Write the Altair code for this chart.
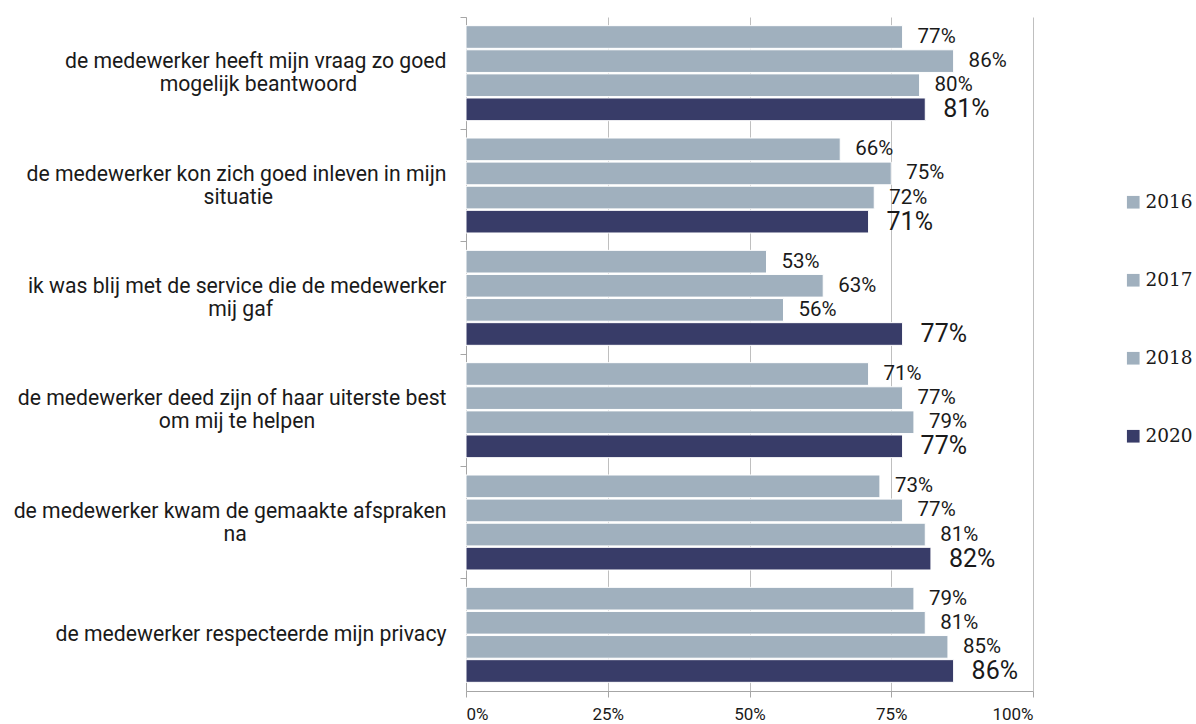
import altair as alt
import pandas as pd

categories = [
    "de medewerker heeft mijn vraag zo goed|mogelijk beantwoord",
    "de medewerker kon zich goed inleven in mijn|situatie",
    "ik was blij met de service die de medewerker|mij gaf",
    "de medewerker deed zijn of haar uiterste best|om mij te helpen",
    "de medewerker kwam de gemaakte afspraken|na",
    "de medewerker respecteerde mijn privacy",
]
years = ["2016", "2017", "2018", "2020"]
v2016 = [77, 66, 53, 71, 73, 79]
v2017 = [86, 75, 63, 77, 77, 81]
v2018 = [80, 72, 56, 79, 81, 85]
v2020 = [81, 71, 77, 77, 82, 86]
x_ticks = [0, 25, 50, 75, 100]

# approximate Roboto advance widths (units per em 2048), used only to centre
# the second line of a wrapped axis label under the first (right-aligned) line
_W = {" ": 507, "a": 1086, "b": 1121, "c": 1046, "d": 1126, "e": 1058, "f": 694,
      "g": 1123, "h": 1101, "i": 486, "j": 477, "k": 1013, "l": 486, "m": 1753,
      "n": 1103, "o": 1140, "p": 1121, "q": 1128, "r": 677, "s": 1031, "t": 654,
      "u": 1102, "v": 968, "w": 1502, "x": 991, "y": 946, "z": 991}


def _width(s):
    return sum(_W.get(ch, 1050) for ch in s)


def centre_label(c):
    parts = c.split("|")
    if len(parts) < 2:
        return c
    first, second = parts
    n = max(0, round((_width(first) - _width(second)) / 2 / _W[" "]))
    # trailing no-break spaces, closed by a zero-width space so they are not trimmed
    return first + "|" + second + "\u00a0" * n + "\u200b"


display = [centre_label(c) for c in categories]

series = dict(zip(years, [v2016, v2017, v2018, v2020]))
rows = []
for y in years:
    for c, v in zip(display, series[y]):
        rows.append({"cat": c, "year": y, "value": v})
df = pd.DataFrame(rows)

LIGHT = "#A0B0BE"
DARK = "#383C68"
TXT = "#1a1a1a"
AXC = "#A6A6A6"

y_enc = alt.Y(
    "cat:N",
    sort=display,
    title=None,
    scale=alt.Scale(paddingInner=0, paddingOuter=0),
    axis=alt.Axis(
        labelExpr="split(datum.label, '|')",
        labelFont="Roboto",
        labelFontSize=21.2,
        labelColor=TXT,
        labelLineHeight=23,
        labelPadding=14,
        labelLimit=0,
        labelOffset={
            "condition": {"test": "indexof(datum.label, '|') >= 0", "value": -11},
            "value": 0,
        },
        tickSize=6,
        tickColor=AXC,
        domainColor=AXC,
        bandPosition=0,
        grid=False,
    ),
)
yoff = alt.YOffset(
    "year:N", sort=years,
    scale=alt.Scale(paddingInner=0.06, paddingOuter=0.36),
)
x_enc = alt.X(
    "value:Q",
    title=None,
    scale=alt.Scale(domain=[0, 100], nice=False),
    axis=alt.Axis(
        values=x_ticks,
        labelExpr="datum.value + '%'",
        labelFont="Roboto",
        labelFontSize=17,
        labelColor=TXT,
        labelPadding=9,
        tickSize=6,
        tickColor=AXC,
        domainColor=AXC,
        grid=True,
        gridColor="#BFBFBF",
    ),
)

bars = alt.Chart(df).mark_bar(stroke="white", strokeWidth=1).encode(
    x=x_enc,
    y=y_enc,
    yOffset=yoff,
    color=alt.Color(
        "year:N",
        sort=years,
        scale=alt.Scale(domain=years, range=[LIGHT, LIGHT, LIGHT, DARK]),
        legend=alt.Legend(
            title=None,
            orient="none",
            legendX=658,
            legendY=176,
            symbolType="square",
            symbolSize=160,
            symbolStrokeWidth=0,
            labelFont="DejaVu Serif",
            labelFontSize=18.5,
            labelColor=TXT,
            rowPadding=59,
            labelOffset=3,
        ),
    ),
)

base_text = alt.Chart(df).transform_calculate(label="datum.value + '%'")

labels_light = base_text.transform_filter(alt.datum.year != "2020").mark_text(
    align="left", baseline="middle", dx=15, font="Roboto", color=TXT, fontSize=20.5
).encode(
    x="value:Q",
    y=alt.Y("cat:N", sort=display),
    yOffset=yoff,
    text=alt.Text("label:N"),
)

labels_dark = base_text.transform_filter(alt.datum.year == "2020").mark_text(
    align="left", baseline="middle", dx=18, font="Roboto", color=TXT, fontSize=25
).encode(
    x="value:Q",
    y=alt.Y("cat:N", sort=display),
    yOffset=yoff,
    text=alt.Text("label:N"),
)

chart = (
    alt.layer(bars, labels_light, labels_dark)
    .properties(
        width=567,
        height=674,
        autosize=alt.AutoSizeParams(type="none"),
        padding={"left": 466, "top": 17, "right": 163, "bottom": 33},
        background="white",
    )
    .configure_view(stroke=None)
)

chart.save("out.html", embed_options={"renderer": "svg", "actions": False})
